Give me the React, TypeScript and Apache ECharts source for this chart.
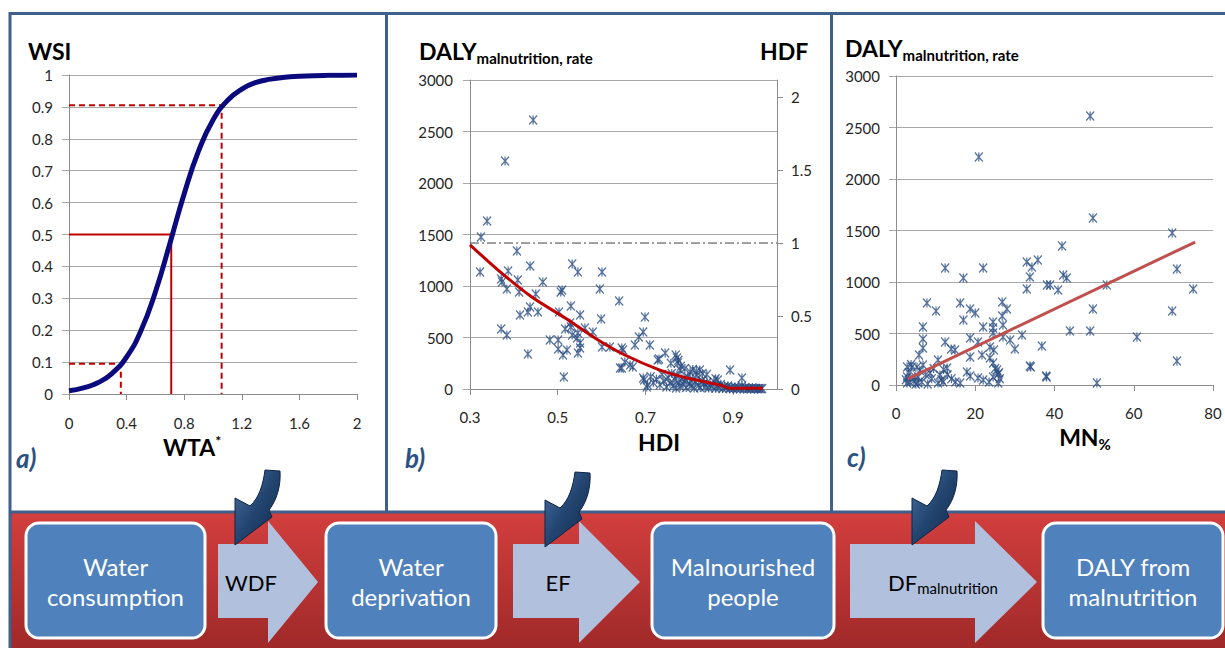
import React, { useEffect, useRef } from "react";
import * as echarts from "echarts";

// ---------- Panel a: WSI vs WTA* ----------
const wtaValues = [0, 0.1, 0.2, 0.3, 0.4, 0.5, 0.6, 0.7, 0.8, 0.9, 1.0, 1.1, 1.2, 1.3, 1.4, 1.5, 1.6, 1.7, 1.8, 1.9, 2.0];
const wsiValues = [0.01, 0.019, 0.035, 0.065, 0.116, 0.199, 0.32, 0.471, 0.628, 0.762, 0.859, 0.92, 0.956, 0.977, 0.987, 0.993, 0.996, 0.998, 0.999, 0.9995, 0.9997];
const wsiSolidRef = [[0, 0.5], [0.71, 0.5], [0.71, 0]];
const wsiDashHigh = [[0, 0.905], [1.06, 0.905], [1.06, 0]];
const wsiDashLow = [[0, 0.095], [0.36, 0.095], [0.36, 0]];

// ---------- Panel b: DALY rate vs HDI ----------
const hdiDaly: number[][] = [
  [0.444, 2612], [0.38, 2214], [0.339, 1631], [0.325, 1476], [0.407, 1340], [0.323, 1136], [0.437, 1194], [0.387, 1146],
  [0.371, 1068], [0.373, 1039], [0.384, 971], [0.409, 1058], [0.412, 942], [0.466, 1039], [0.45, 922], [0.533, 1214],
  [0.546, 1136], [0.601, 1136], [0.51, 961], [0.507, 942], [0.596, 971], [0.64, 854], [0.437, 796], [0.432, 748],
  [0.414, 718], [0.455, 748], [0.503, 748], [0.53, 806], [0.551, 718], [0.599, 680], [0.371, 583], [0.384, 524],
  [0.517, 583], [0.53, 602], [0.528, 641], [0.546, 544], [0.562, 592], [0.58, 553], [0.533, 524], [0.544, 495],
  [0.551, 447], [0.551, 398], [0.546, 350], [0.482, 476], [0.501, 476], [0.501, 388], [0.512, 330], [0.521, 379],
  [0.432, 340], [0.514, 117], [0.601, 408], [0.619, 408], [0.646, 398], [0.646, 204], [0.699, 699], [0.695, 553],
  [0.685, 505], [0.676, 427], [0.71, 427], [0.649, 379], [0.665, 233], [0.642, 204], [0.671, 214], [0.695, 107],
  [0.705, 39], [0.728, 282], [0.745, 350], [0.772, 301], [0.774, 252], [0.779, 184], [0.802, 165], [0.824, 184],
  [0.893, 184], [0.92, 107], [0.697, 87], [0.703, 19], [0.731, 291], [0.653, 262], [0.865, 87], [0.769, 330],
  [0.775, 280], [0.781, 220], [0.79, 200], [0.808, 190], [0.816, 170], [0.83, 150], [0.758, 250], [0.84, 140],
  [0.86, 100], [0.712, 120], [0.718, 60], [0.725, 95], [0.733, 40], [0.738, 140], [0.742, 75], [0.748, 20],
  [0.752, 110], [0.756, 55], [0.76, 150], [0.763, 30], [0.767, 90], [0.77, 10], [0.772, 130], [0.776, 60],
  [0.779, 25], [0.783, 100], [0.786, 45], [0.79, 80], [0.793, 15], [0.796, 120], [0.8, 50], [0.804, 30],
  [0.807, 95], [0.811, 10], [0.814, 65], [0.818, 130], [0.821, 35], [0.825, 15], [0.829, 80], [0.833, 50],
  [0.836, 20], [0.84, 60], [0.844, 10], [0.848, 40], [0.852, 25], [0.856, 70], [0.86, 8], [0.864, 35],
  [0.868, 15], [0.872, 45], [0.876, 5], [0.88, 25], [0.884, 10], [0.888, 30], [0.892, 5], [0.896, 15],
  [0.9, 3], [0.904, 20], [0.908, 5], [0.912, 12], [0.916, 3], [0.92, 30], [0.924, 5], [0.928, 10],
  [0.932, 2], [0.936, 8], [0.94, 3], [0.944, 12], [0.948, 2], [0.952, 6], [0.956, 3], [0.96, 5], [0.963, 2], [0.966, 4],
];
const hdfCurve = [[0.3, 1400], [0.364, 1155], [0.441, 893], [0.517, 689], [0.592, 476], [0.653, 330], [0.733, 184], [0.795, 107], [0.87, 39], [0.893, 8], [0.968, 8]];
const hdfOneLine = [[0.3, 1], [1.0, 1]];

// ---------- Panel c: DALY rate vs MN% ----------
const mnDaly: number[][] = [
  [20.9, 2214], [49, 2612], [49.7, 1621], [69.7, 1476], [41.9, 1350], [12.4, 1136], [22, 1136], [17, 1039],
  [33, 1194], [34.3, 1146], [35.8, 1214], [33.8, 1049], [33, 932], [38.1, 971], [38.9, 971], [40.9, 922],
  [42.2, 1068], [43.1, 1039], [53.2, 971], [70.9, 1126], [75, 932], [69.7, 718], [49.7, 738], [43.9, 524],
  [49, 524], [60.8, 466], [70.9, 233], [50.7, 19], [36.8, 379], [33.8, 184], [37.9, 87], [31.8, 485],
  [30, 350], [28.8, 437], [28, 738], [26.8, 806], [26.8, 670], [27, 583], [27, 466], [24.5, 612],
  [24.5, 553], [24.5, 505], [23.7, 369], [24.7, 340], [23.7, 262], [24.5, 214], [25.5, 146], [25.8, 107],
  [24.5, 78], [25.8, 19], [22, 563], [21.7, 291], [20.7, 418], [20, 699], [18.7, 738], [18.7, 456],
  [18.7, 272], [17.9, 126], [18.7, 87], [20.7, 68], [22, 49], [17, 631], [16.2, 796], [16.2, 19],
  [14.9, 340], [13.9, 350], [12.9, 165], [12.4, 418], [10.6, 243], [11.1, 97], [11.9, 29], [10.6, 19],
  [7.8, 796], [10.1, 718], [6.8, 563], [6.8, 447], [6.8, 359], [5.8, 291], [6.8, 194], [5.3, 175],
  [8.6, 117], [5.6, 78], [2.8, 175], [4, 175], [2.8, 78], [3.5, 29], [2.8, 19], [5.6, 19], [4.8, 78],
  [3.2, 120], [4.5, 40], [6, 140], [7.5, 100], [9, 60], [9.5, 160], [3.8, 200], [2.5, 50], [5, 10],
  [6.5, 30], [8, 10], [12, 150], [13, 100], [14, 60], [15, 30], [11.5, 50], [25, 160], [26, 120],
  [23.5, 30], [26.2, 60], [34, 175], [38, 78],
];
const mnTrend = [[3, 60], [75.5, 1388]];

// ---------- Flow diagram ----------
const boxLabels = ["Water\nconsumption", "Water\ndeprivation", "Malnourished\npeople", "DALY from\nmalnutrition"];
const arrowLabels = ["WDF", "EF", "{b|DF}{s|malnutrition}"];

const FONT = 'Lato, "Noto Sans", sans-serif';
const TICK = "#262626";
const GRID = "#A8A8A8";
const AXIS = "#8C8C8C";
const BORDER = "#3F5F8C";
const STAR = "path://M0,0L10,10M10,0L0,10M5,0L5,10";
const plain = (v: number) => String(+v.toFixed(4));

const baseAxis = (extra: any) => ({
  type: "value",
  axisLine: { show: true, lineStyle: { color: AXIS, width: 1 } },
  axisTick: { show: true, inside: false, length: 6, lineStyle: { color: AXIS } },
  axisLabel: { color: TICK, fontSize: 15, fontFamily: FONT, formatter: plain },
  splitLine: { show: false },
  ...extra,
});
const lbl = (margin: number, extra: any = {}) => ({ color: TICK, fontSize: 15, fontFamily: FONT, margin, formatter: plain, ...extra });

export default function App() {
  const ref = useRef<HTMLDivElement>(null);
  useEffect(() => {
    if (!ref.current) return;
    echarts.graphic.registerShape(
      "curvedArrow",
      echarts.graphic.extendPath("M30,0 L45,1 C46,15 42,30 34,40 L37,47 L0,75 L0,28 L15,36 C24,28 28,15 30,0 Z", {})
    );
    const chart = echarts.init(ref.current, null, { renderer: "svg" });

    const boxes = [
      { x: 26, w: 179 },
      { x: 326, w: 170 },
      { x: 652, w: 182 },
      { x: 1043, w: 180 },
    ];
    const arrows = [
      { x0: 218, x1: 268, x2: 318, tx: 251 },
      { x0: 513, x1: 579, x2: 640, tx: 558 },
      { x0: 850, x1: 975, x2: 1037, tx: 943 },
    ];
    const curved = [
      { x: 235, y: 470 },
      { x: 545, y: 472 },
      { x: 912, y: 470 },
    ];

    const graphics: any[] = [];
    graphics.push({
      type: "rect",
      shape: { x: 10, y: 512, width: 1215, height: 136 },
      style: {
        fill: new echarts.graphic.LinearGradient(0, 0, 0, 1, [
          { offset: 0, color: "#D23F3E" },
          { offset: 1, color: "#A02929" },
        ]),
      },
      z: 1,
    });
    const bl = (x1: number, y1: number, x2: number, y2: number) => ({
      type: "line",
      shape: { x1, y1, x2, y2 },
      style: { stroke: BORDER, lineWidth: 3 },
      z: 2,
    });
    graphics.push(bl(10, 13.5, 1225, 13.5));
    graphics.push(bl(10, 12, 10, 648));
    graphics.push(bl(386.5, 13, 386.5, 512));
    graphics.push(bl(831.5, 13, 831.5, 512));
    graphics.push(bl(10, 512, 1225, 512));

    boxes.forEach((b, i) => {
      graphics.push({
        type: "rect",
        shape: { x: b.x, y: 523, width: b.w, height: 115, r: 13 },
        style: { fill: "#4F81BD", stroke: "#FFFFFF", lineWidth: 3 },
        z: 3,
      });
      graphics.push({
        type: "text",
        x: b.x + b.w / 2,
        y: 581,
        style: {
          text: boxLabels[i],
          fill: "#FFFFFF",
          fontSize: 24,
          fontFamily: FONT,
          lineHeight: 30,
          align: "center",
          verticalAlign: "middle",
          textAlign: "center",
          textVerticalAlign: "middle",
        },
        z: 4,
      });
    });
    arrows.forEach((a, i) => {
      graphics.push({
        type: "polygon",
        shape: {
          points: [
            [a.x0, 544], [a.x1, 544], [a.x1, 521], [a.x2, 582], [a.x1, 643], [a.x1, 618], [a.x0, 618],
          ],
        },
        style: { fill: "#B1C1DD" },
        z: 3,
      });
      graphics.push({
        type: "text",
        x: a.tx,
        y: 582,
        style: {
          text: arrowLabels[i],
          fill: "#000000",
          fontSize: 22,
          fontFamily: FONT,
          align: "center",
          verticalAlign: "middle",
          textAlign: "center",
          textVerticalAlign: "middle",
          rich: {
            b: { fontSize: 22, fontFamily: FONT, fill: "#000", color: "#000", lineHeight: 26 },
            s: { fontSize: 15, fontFamily: FONT, fill: "#000", color: "#000", lineHeight: 12, verticalAlign: "bottom" },
          },
        },
        z: 4,
      });
    });
    curved.forEach((c) => {
      graphics.push({
        type: "curvedArrow",
        x: c.x,
        y: c.y,
        style: {
          fill: new echarts.graphic.LinearGradient(0, 0, 1, 1, [
            { offset: 0, color: "#4A72A6" },
            { offset: 0.5, color: "#22446F" },
            { offset: 1, color: "#132C4F" },
          ]),
          stroke: "#0F2546",
          lineWidth: 1,
        },
        z: 6,
      });
    });

    const title = (x: number, y: number, text: string, extra: any = {}) => ({
      type: "text",
      x,
      y,
      style: {
        text,
        fill: "#000",
        fontSize: 23,
        fontWeight: "bold",
        fontFamily: FONT,
        align: "left",
        verticalAlign: "middle",
        textAlign: "left",
        textVerticalAlign: "middle",
        rich: {
          b: { fontSize: 23, fontWeight: "bold", fontFamily: FONT, fill: "#000", color: "#000", lineHeight: 28 },
          s: { fontSize: 15, fontWeight: "bold", fontFamily: FONT, fill: "#000", color: "#000", lineHeight: 13, verticalAlign: "bottom" },
          p: { fontSize: 14, fontWeight: "bold", fontFamily: FONT, fill: "#000", color: "#000", lineHeight: 13, verticalAlign: "top" },
        },
        ...extra,
      },
      z: 5,
    });
    graphics.push(title(28, 51, "WSI"));
    graphics.push(title(419, 51, "{b|DALY}{s|malnutrition, rate}"));
    graphics.push(title(760, 51, "HDF"));
    graphics.push(title(845, 48, "{b|DALY}{s|malnutrition, rate}"));
    graphics.push(title(192, 447, "{b|WTA}{p|*}", { align: "center", textAlign: "center" }));
    graphics.push(title(659, 442, "{b|HDI}", { align: "center", textAlign: "center" }));
    graphics.push(title(1085, 437, "{b|MN}{s|%}", { align: "center", textAlign: "center" }));
    const panelLabel = (x: number, y: number, t: string) => ({
      type: "text",
      x,
      y,
      style: {
        text: t,
        fill: "#2C5183",
        fontSize: 26,
        fontWeight: "bold",
        fontStyle: "italic",
        fontFamily: FONT,
        align: "left",
        verticalAlign: "middle",
        textAlign: "left",
        textVerticalAlign: "middle",
      },
      z: 5,
    });
    graphics.push(panelLabel(16, 458, "a)"));
    graphics.push(panelLabel(405, 458, "b)"));
    graphics.push(panelLabel(847, 457, "c)"));

    const scatterStyle = {
      type: "scatter",
      symbol: STAR,
      symbolSize: [8, 9],
      itemStyle: { color: "rgba(0,0,0,0)", borderColor: "#2A4E82", borderWidth: 1.3 },
      z: 3,
    };

    const option: any = {
      animation: false,
      backgroundColor: "#FFFFFF",
      grid: [
        { left: 69, top: 75, width: 288, height: 319 },
        { left: 470, top: 80, width: 307, height: 309 },
        { left: 896, top: 76, width: 317, height: 309 },
      ],
      xAxis: [
        baseAxis({ gridIndex: 0, min: 0, max: 2, interval: 0.4, axisLabel: lbl(21) }),
        baseAxis({ gridIndex: 1, min: 0.3, max: 1.0, interval: 0.2, axisLabel: lbl(20, { showMaxLabel: false }) }),
        baseAxis({ gridIndex: 2, min: 0, max: 80, interval: 20, axisLabel: lbl(20) }),
      ],
      yAxis: [
        baseAxis({
          gridIndex: 0, min: 0, max: 1, interval: 0.1,
          axisTick: { show: true, length: 7, lineStyle: { color: GRID } },
          axisLabel: lbl(16),
          splitLine: { show: true, lineStyle: { color: GRID, width: 1 } },
        }),
        baseAxis({
          gridIndex: 1, min: 0, max: 3000, interval: 500,
          axisTick: { show: true, length: 7, lineStyle: { color: GRID } },
          axisLabel: lbl(17),
          splitLine: { show: true, lineStyle: { color: GRID, width: 1 } },
        }),
        baseAxis({
          gridIndex: 1, position: "right", min: 0, max: 2.117, interval: 0.5,
          axisTick: { show: true, length: 6, lineStyle: { color: AXIS } },
          axisLabel: lbl(14, { showMaxLabel: false }),
        }),
        baseAxis({
          gridIndex: 2, min: 0, max: 3000, interval: 500,
          axisTick: { show: true, length: 7, lineStyle: { color: GRID } },
          axisLabel: lbl(16),
          splitLine: { show: true, lineStyle: { color: GRID, width: 1 } },
        }),
      ],
      series: [
        {
          type: "line", xAxisIndex: 0, yAxisIndex: 0, data: wsiSolidRef, symbol: "none",
          lineStyle: { color: "#C00000", width: 2 }, z: 2,
        },
        {
          type: "line", xAxisIndex: 0, yAxisIndex: 0, data: wsiDashHigh, symbol: "none",
          lineStyle: { color: "#C00000", width: 2, type: [6, 4] }, z: 2,
        },
        {
          type: "line", xAxisIndex: 0, yAxisIndex: 0, data: wsiDashLow, symbol: "none",
          lineStyle: { color: "#C00000", width: 2, type: [6, 4] }, z: 2,
        },
        {
          type: "line", xAxisIndex: 0, yAxisIndex: 0,
          data: wtaValues.map((x, i) => [x, wsiValues[i]]),
          smooth: true, symbol: "none",
          lineStyle: { color: "#0A0A7E", width: 5 }, z: 4,
        },
        { ...scatterStyle, xAxisIndex: 1, yAxisIndex: 1, data: hdiDaly },
        {
          type: "line", xAxisIndex: 1, yAxisIndex: 2, data: hdfOneLine, symbol: "none",
          lineStyle: { color: "#404040", width: 1, type: [9, 3, 2, 3] }, z: 2,
        },
        {
          type: "line", xAxisIndex: 1, yAxisIndex: 1, data: hdfCurve, smooth: 0.3, symbol: "none",
          lineStyle: { color: "#C00000", width: 3 }, z: 4,
        },
        { ...scatterStyle, xAxisIndex: 2, yAxisIndex: 3, data: mnDaly },
        {
          type: "line", xAxisIndex: 2, yAxisIndex: 3, data: mnTrend, symbol: "none",
          lineStyle: { color: "#C0504D", width: 3 }, z: 4,
        },
      ],
      graphic: graphics,
    };
    chart.setOption(option);
    return () => chart.dispose();
  }, []);
  return (
    <div
      ref={ref}
      style={{ position: "absolute", left: 0, top: 0, width: 1225, height: 648, background: "#fff" }}
    />
  );
}
